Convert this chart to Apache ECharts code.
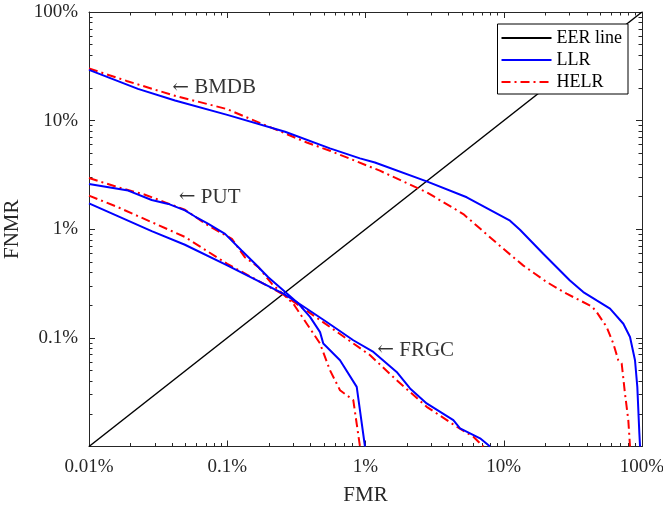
<!DOCTYPE html>
<html>
<head>
<meta charset="utf-8">
<script src="https://cdn.jsdelivr.net/npm/echarts@6/dist/echarts.min.js"></script>
<style>
  html, body { margin: 0; padding: 0; background: #fff; }
  #chart { width: 663px; height: 508px; }
</style>
</head>
<body>
<div id="chart"></div>
<script>
// all values in percent: [FMR, FNMR]
const eerLine = [[0.01, 0.01], [100, 100]]

const bmdbLLR = [[0.01, 29.3], [0.0226, 19.6], [0.0419, 15.3], [0.1, 11.3], [0.262, 7.9], [0.553, 5.55],
  [0.912, 4.49], [1.17, 4.12], [2.77, 2.76], [5.4, 1.97], [11.1, 1.2], [13.1, 0.99],
  [19.3, 0.595], [30.1, 0.338], [37.6, 0.264], [47.0, 0.221], [58.7, 0.186], [73.3, 0.135],
  [81.9, 0.102], [89.0, 0.0622], [92.5, 0.0354], [95.7, 0.0132], [96.8, 0.01]]
const bmdbHELR = [[0.01, 30.2], [0.0187, 23.2], [0.0407, 17.1], [0.099, 12.8], [0.376, 6.29], [0.553, 5.28],
  [1.27, 3.46], [2.77, 2.19], [5.1, 1.38], [9.93, 0.661], [13.8, 0.465], [20.5, 0.326], [28.5, 0.255],
  [35.6, 0.221], [43.3, 0.195], [47.0, 0.173], [55.5, 0.126], [62.0, 0.0887], [67.4, 0.0622],
  [71.3, 0.0581], [75.3, 0.0308], [79.6, 0.0175], [81.9, 0.01]]

const putLLR = [[0.01, 2.61], [0.0192, 2.27], [0.0284, 1.86], [0.0375, 1.71], [0.0494, 1.49], [0.0585, 1.31],
  [0.073, 1.12], [0.0964, 0.907], [0.127, 0.637], [0.159, 0.481], [0.198, 0.362], [0.254, 0.274],
  [0.327, 0.207], [0.397, 0.156], [0.469, 0.113], [0.495, 0.0887], [0.654, 0.0623], [0.864, 0.0354],
  [0.991, 0.01]]
const putHELR = [[0.01, 2.96], [0.0163, 2.43], [0.0254, 2.08], [0.0355, 1.77], [0.0494, 1.51], [0.073, 1.08],
  [0.108, 0.816], [0.134, 0.553], [0.168, 0.448], [0.21, 0.315], [0.3, 0.207], [0.376, 0.135],
  [0.469, 0.0887], [0.553, 0.0504], [0.654, 0.033], [0.816, 0.0267], [0.912, 0.01]]

const frgcLLR = [[0.01, 1.73], [0.0284, 0.96], [0.0494, 0.72], [0.1, 0.464], [0.254, 0.255], [0.318, 0.214],
  [0.524, 0.14], [0.816, 0.0951], [1.14, 0.0742], [1.68, 0.0486], [2.1, 0.0342], [2.77, 0.0249],
  [4.32, 0.0175], [4.83, 0.0147], [6.74, 0.0119], [7.96, 0.01]]
const frgcHELR = [[0.01, 2.04], [0.0163, 1.59], [0.0494, 0.85], [0.1, 0.48], [0.254, 0.251], [0.553, 0.126],
  [1.08, 0.0692], [1.68, 0.0408], [2.77, 0.0232], [4.57, 0.0152], [6.03, 0.0123], [7.11, 0.01]]

const labels = [
  { name: 'BMDB', value: [0.0396, 20.1] },
  { name: 'PUT', value: [0.0443, 1.97] },
  { name: 'FRGC', value: [1.205, 0.0769] }
]
const axisTicks = [0.01, 0.1, 1, 10, 100]
const minorSteps = [2, 3, 4, 5, 6, 7, 8, 9]

const font = 'Liberation Serif, Times New Roman, serif'
const axisColor = '#262626'

// minor ticks at 2..9 of every decade
const minorTicks = []
axisTicks.slice(0, -1).forEach(d => minorSteps.forEach(k => minorTicks.push(+(d * k).toPrecision(3))))

const chart = echarts.init(document.getElementById('chart'), null, { renderer: 'canvas' })

const fmtPct = v => v + '%'

function logAxis(pos, minor, withLabels) {
  return {
    type: 'log',
    logBase: 10,
    min: axisTicks[0],
    max: axisTicks[axisTicks.length - 1],
    position: pos,
    axisLine: { show: !minor, lineStyle: { color: axisColor, width: 1 } },
    axisTick: {
      show: true, inside: true, length: minor ? 3.5 : 6,
      customValues: minor ? minorTicks : axisTicks,
      lineStyle: { color: axisColor, width: 1 }
    },
    splitLine: { show: false },
    axisLabel: {
      show: withLabels, customValues: axisTicks, formatter: fmtPct,
      fontFamily: font, fontSize: 19, color: axisColor, margin: 11
    }
  }
}

const xMain = Object.assign(logAxis('bottom', false, true), {
  name: 'FMR', nameLocation: 'middle', nameGap: 38,
  nameTextStyle: { fontFamily: font, fontSize: 21, color: axisColor }
})
const yMain = Object.assign(logAxis('left', false, true), {
  name: 'FNMR', nameLocation: 'middle', nameGap: 56,
  nameTextStyle: { fontFamily: font, fontSize: 21, color: axisColor }
})
yMain.axisLabel.customValues = axisTicks.slice(1)

const blue = '#0000ff'
const red = '#ff0000'
const dashDot = [9, 4, 2, 4]

function curve(name, data, color, dashed) {
  return {
    name: name,
    type: 'line',
    data: data,
    symbol: 'none',
    showSymbol: false,
    lineStyle: { color: color, width: 2, type: dashed ? dashDot : 'solid' },
    itemStyle: { color: color },
    z: dashed ? 3 : 4
  }
}

const option = {
  animation: false,
  grid: { left: 89, right: 21, top: 12, bottom: 61.5, containLabel: false, outerBoundsMode: 'none' },
  xAxis: [xMain, logAxis('bottom', true, false), logAxis('top', false, false), logAxis('top', true, false)],
  yAxis: [yMain, logAxis('left', true, false), logAxis('right', false, false), logAxis('right', true, false)],
  legend: {
    data: ['EER line', 'LLR', 'HELR'],
    orient: 'vertical',
    right: 35,
    top: 24,
    backgroundColor: '#fff',
    borderColor: '#000',
    borderWidth: 1,
    padding: [5, 6, 3, 3],
    itemWidth: 50,
    itemHeight: 10,
    itemGap: 4,
    itemStyle: { opacity: 0 },
    textStyle: { fontFamily: font, fontSize: 18, color: '#000' }
  },
  series: [
    {
      name: 'EER line', type: 'line', data: eerLine, symbol: 'none', showSymbol: false,
      lineStyle: { color: '#000', width: 1.5 }, itemStyle: { color: '#000' }, z: 2
    },
    curve('HELR', bmdbHELR, red, true),
    curve('LLR', bmdbLLR, blue, false),
    curve('HELR', putHELR, red, true),
    curve('LLR', putLLR, blue, false),
    curve('HELR', frgcHELR, red, true),
    curve('LLR', frgcLLR, blue, false),
    {
      type: 'scatter',
      data: labels,
      symbolSize: 1,
      itemStyle: { color: 'rgba(0,0,0,0)' },
      silent: true,
      label: {
        show: true, position: 'right', distance: 0,
        formatter: p => '{a|←} ' + p.name,
        fontFamily: font, fontSize: 21, color: '#000',
        rich: { a: { fontFamily: 'DejaVu Serif', fontSize: 20, color: '#000' } }
      },
      z: 5
    }
  ]
}

chart.setOption(option)
</script>
</body>
</html>
